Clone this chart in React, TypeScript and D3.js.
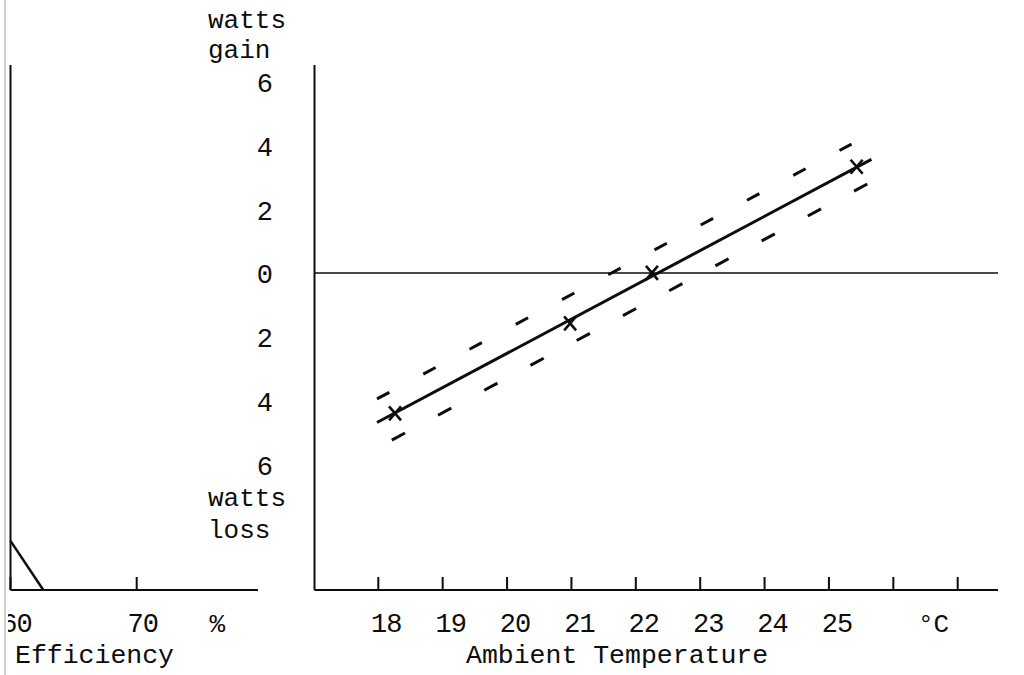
import React, { useEffect, useRef } from 'react'
import * as d3 from 'd3'

// readings taken off the plot
const tempTicks = [18, 19, 20, 21, 22, 23, 24, 25, 26, 27]
const tempLabels = [18, 19, 20, 21, 22, 23, 24, 25]
const wattLabels = [6, 4, 2, 0, -2, -4, -6]
const effTicks = [60, 70]
const effLabels = [60, 70]

const measuredTemps = [18.26, 20.98, 22.25, 25.43]
const measuredWatts = [-4.4, -1.58, 0, 3.33]

const fitTemps = [17.98, 25.66]
const fitWatts = [-4.69, 3.56]
const upperTemps = [17.98, 25.35]
const upperWatts = [-3.95, 4.04]
const lowerTemps = [18.21, 25.68]
const lowerWatts = [-5.24, 2.88]

const effLineEff = [60, 62.6]
const effLineWatts = [-8.4, -9.94]

const FONT = "'Liberation Mono', 'DejaVu Sans Mono', monospace"

export default function App() {
  const ref = useRef<SVGSVGElement>(null)

  useEffect(() => {
    const svg = d3.select(ref.current)
    svg.selectAll('*').remove()

    const x = d3.scaleLinear().domain([18, 27]).range([378.3, 957.7])
    const xe = d3.scaleLinear().domain([60, 70]).range([10.5, 136.7])
    const y = d3.scaleLinear().domain([-9.94, 6.52]).range([590, 65])

    const axisX = 314.5
    const baseY = y(-9.94)
    const ink = '#0d0d0d'

    // scanned page edge
    svg.append('line')
      .attr('x1', 5).attr('x2', 5).attr('y1', 0).attr('y2', 675)
      .attr('stroke', '#cfcfcf').attr('stroke-width', 2)

    svg.append('clipPath').attr('id', 'page')
      .append('rect').attr('x', 8).attr('y', 0).attr('width', 1020).attr('height', 675)

    const g = svg.append('g').attr('clip-path', 'url(#page)')

    // ---- left panel (efficiency)
    g.append('line')
      .attr('x1', 10.5).attr('x2', 10.5).attr('y1', y(6.52)).attr('y2', baseY)
      .attr('stroke', ink).attr('stroke-width', 2)
    g.append('line')
      .attr('x1', 10.5).attr('x2', 258).attr('y1', baseY).attr('y2', baseY)
      .attr('stroke', ink).attr('stroke-width', 2)
    g.selectAll('.etick').data(effTicks).join('line')
      .attr('x1', d => xe(d)).attr('x2', d => xe(d))
      .attr('y1', baseY - 13).attr('y2', baseY)
      .attr('stroke', ink).attr('stroke-width', 2)
    g.selectAll('.elab').data(effLabels).join('text')
      .attr('x', d => xe(d) + 6).attr('y', 632)
      .attr('text-anchor', 'middle')
      .attr('font-family', FONT).attr('font-size', 27).attr('letter-spacing', -1)
      .attr('fill', ink)
      .text(d => d)
    g.append('text')
      .attr('x', xe(76) + 5).attr('y', 632).attr('text-anchor', 'middle')
      .attr('font-family', FONT).attr('font-size', 26).attr('fill', ink)
      .text('%')
    g.append('text')
      .attr('x', 15).attr('y', 663)
      .attr('font-family', FONT).attr('font-size', 26.5).attr('fill', ink)
      .text('Efficiency')

    const effLine = d3.line<number>()
      .x((d, i) => xe(effLineEff[i]))
      .y(d => y(d))
    g.append('path')
      .attr('d', effLine(effLineWatts))
      .attr('fill', 'none').attr('stroke', ink).attr('stroke-width', 2.5)

    // ---- right panel (ambient temperature)
    g.append('line')
      .attr('x1', axisX).attr('x2', axisX).attr('y1', y(6.52)).attr('y2', baseY)
      .attr('stroke', ink).attr('stroke-width', 2)
    g.append('line')
      .attr('x1', axisX).attr('x2', 998).attr('y1', baseY).attr('y2', baseY)
      .attr('stroke', ink).attr('stroke-width', 2)
    g.append('line')
      .attr('x1', axisX).attr('x2', 998).attr('y1', y(0)).attr('y2', y(0))
      .attr('stroke', ink).attr('stroke-width', 1.6)

    g.selectAll('.ttick').data(tempTicks).join('line')
      .attr('x1', d => x(d)).attr('x2', d => x(d))
      .attr('y1', baseY - 13).attr('y2', baseY)
      .attr('stroke', ink).attr('stroke-width', 2)
    g.selectAll('.tlab').data(tempLabels).join('text')
      .attr('x', d => x(d) + 8).attr('y', 632)
      .attr('text-anchor', 'middle')
      .attr('font-family', FONT).attr('font-size', 27).attr('letter-spacing', -1)
      .attr('fill', ink)
      .text(d => d)
    g.append('text')
      .attr('x', x(26.5) + 8).attr('y', 632).attr('text-anchor', 'middle')
      .attr('font-family', FONT).attr('font-size', 26).attr('fill', ink)
      .text('°C')
    g.append('text')
      .attr('x', 466).attr('y', 663)
      .attr('font-family', FONT).attr('font-size', 26.5).attr('fill', ink)
      .text('Ambient Temperature')

    g.selectAll('.wlab').data(wattLabels).join('text')
      .attr('x', 273).attr('y', d => y(d) + 10.5)
      .attr('text-anchor', 'end')
      .attr('font-family', FONT).attr('font-size', 27)
      .attr('fill', ink)
      .text(d => Math.abs(d))

    const titles = [
      { t: 'watts', yy: 28 },
      { t: 'gain', yy: 58 },
      { t: 'watts', yy: 506 },
      { t: 'loss', yy: 538 },
    ]
    g.selectAll('.wtitle').data(titles).join('text')
      .attr('x', 208).attr('y', d => d.yy)
      .attr('font-family', FONT).attr('font-size', 26).attr('fill', ink)
      .text(d => d.t)

    // fitted line and the dashed band
    const mk = (temps: number[]) => d3.line<number>()
      .x((d, i) => x(temps[i]))
      .y(d => y(d))

    g.append('path')
      .attr('d', mk(fitTemps)(fitWatts))
      .attr('fill', 'none').attr('stroke', ink).attr('stroke-width', 3)
    g.append('path')
      .attr('d', mk(upperTemps)(upperWatts))
      .attr('fill', 'none').attr('stroke', ink).attr('stroke-width', 3)
      .attr('stroke-dasharray', '14 38.5')
    g.append('path')
      .attr('d', mk(lowerTemps)(lowerWatts))
      .attr('fill', 'none').attr('stroke', ink).attr('stroke-width', 3)
      .attr('stroke-dasharray', '15 37.5')

    // measured points as crosses
    const pts = measuredTemps.map((t, i) => ({ t, w: measuredWatts[i] }))
    const cross = g.selectAll('.pt').data(pts).join('g')
      .attr('transform', d => `translate(${x(d.t)},${y(d.w)})`)
    cross.append('line')
      .attr('x1', -6).attr('y1', -7).attr('x2', 6).attr('y2', 7)
      .attr('stroke', ink).attr('stroke-width', 2.6)
    cross.append('line')
      .attr('x1', -6).attr('y1', 7).attr('x2', 6).attr('y2', -7)
      .attr('stroke', ink).attr('stroke-width', 2.6)
  }, [])

  return (
    <svg
      ref={ref}
      width={1024}
      height={675}
      style={{ position: 'absolute', left: 0, top: 0, background: '#fff' }}
    />
  )
}
